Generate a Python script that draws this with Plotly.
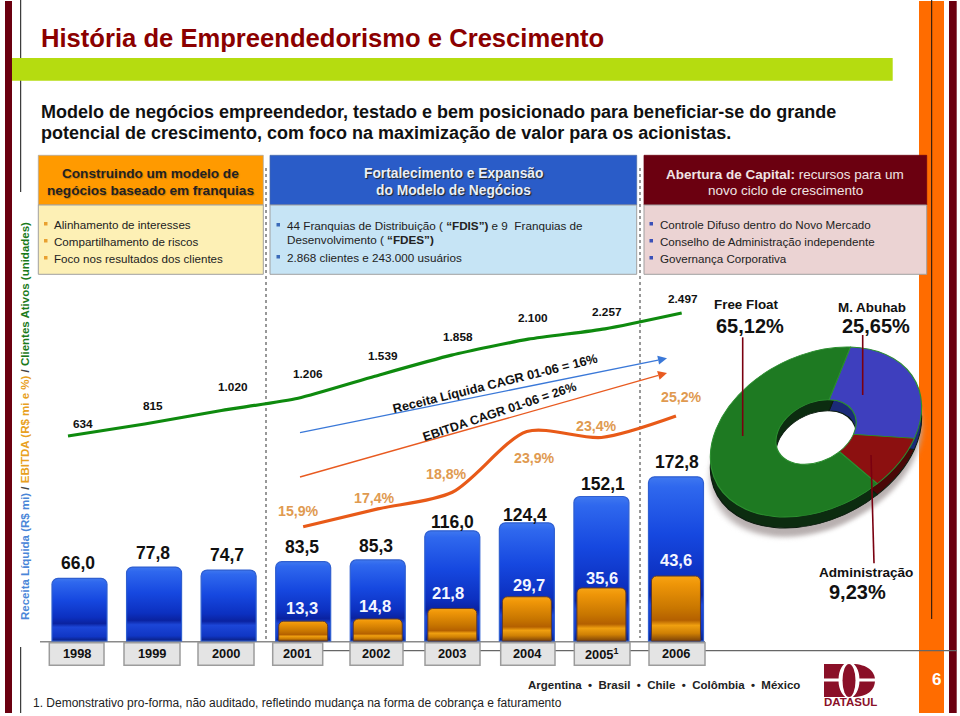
import math
import plotly.graph_objects as go

W, H = 960, 716
FONT = "Liberation Sans"

# ---------- data ----------
YEARS = [1998, 1999, 2000, 2001, 2002, 2003, 2004, 2005, 2006]
YEAR_LABELS = ["1998", "1999", "2000", "2001", "2002", "2003", "2004", "2005<sup>1</sup>", "2006"]
REVENUE = [66.0, 77.8, 74.7, 83.5, 85.3, 116.0, 124.4, 152.1, 172.8]
CLIENTS = [634, 815, 1020, 1206, 1539, 1858, 2100, 2257, 2497]
EBITDA_YEARS = [2001, 2002, 2003, 2004, 2005, 2006]
EBITDA = [13.3, 14.8, 21.8, 29.7, 35.6, 43.6]
MARGIN = [15.9, 17.4, 18.8, 23.9, 23.4, 25.2]
HOLDERS = ["M. Abuhab", "Administração", "Free Float"]
STAKES = [25.65, 9.23, 65.12]

# ---------- pixel helpers ----------
def fx(p): return p / W
def fy(p): return 1 - p / H

shapes, notes = [], []

def rect(x0, y0, x1, y1, fill, line=None, lw=1, layer="below"):
    shapes.append(dict(type="rect", xref="paper", yref="paper", x0=fx(x0), x1=fx(x1), y0=fy(y0), y1=fy(y1),
                       fillcolor=fill, line=dict(color=line or fill, width=lw if line else 0), layer=layer))

def seg(x0, y0, x1, y1, color, lw=1, dash=None, layer="below"):
    shapes.append(dict(type="line", xref="paper", yref="paper", x0=fx(x0), x1=fx(x1), y0=fy(y0), y1=fy(y1),
                       line=dict(color=color, width=lw, dash=dash or "solid"), layer=layer))

def txt(x, y, s, size, color="#111111", bold=False, anchor="center", angle=0, shadow=None):
    font = dict(family=FONT, size=size, color=color, weight=700 if bold else 400)
    if shadow:
        font["shadow"] = shadow
    notes.append(dict(xref="paper", yref="paper", x=fx(x), y=fy(y), text=s, showarrow=False, font=font,
                      xanchor=anchor, yanchor="middle", textangle=angle, borderpad=0, borderwidth=0))

def br(v, d=1):
    return f"{v:.{d}f}".replace(".", ",")

def th(v):
    return f"{v:,}".replace(",", ".")

# ---------- slide furniture ----------
MAROON = "#6b0010"
ORANGE = "#ff6c00"
rect(5, 1, 12, 713, MAROON)
seg(20.7, 0, 20.7, 192, "#111111", 1)
seg(20.7, 647, 20.7, 713, "#111111", 1)
rect(12, 58, 892.7, 80.7, "#b5dc10")
rect(919, 1, 944, 713, ORANGE)
seg(931.7, 0, 931.7, 619, "#111111", 1)
rect(949, 1, 956.7, 713, MAROON)

txt(41, 38, "História de Empreendedorismo e Crescimento", 25.6, "#8b0000", True, "left")
txt(41, 112, "Modelo de negócios empreendedor, testado e bem posicionado para beneficiar-se do grande", 18, "#111111", True, "left")
txt(41, 133, "potencial de crescimento, com foco na maximização de valor para os acionistas.", 18, "#111111", True, "left")

# header and body boxes
rect(38.3, 155.3, 263.3, 205, "#ff9a00", "#a9a9a9", 0.75)
rect(38.3, 205, 263.3, 274.3, "#fdf0b5", "#a0a0a0", 1)
rect(270, 155.3, 636.7, 205, "#2a5cc8", "#4a6aa8", 0.75)
rect(270, 205, 636.7, 274.3, "#c6e4f5", "#a0a0a0", 1)
rect(644, 155.3, 926.7, 205, MAROON, MAROON, 0.75)
rect(644, 205, 926.7, 274.3, "#ebd3d3", "#a0a0a0", 1)

txt(150.8, 174, "Construindo um modelo de", 13.6, "#222222", True, shadow="1px 1px 1px #c87800")
txt(150.8, 190, "negócios baseado em franquias", 13.6, "#222222", True, shadow="1px 1px 1px #c87800")
txt(453.5, 174, "Fortalecimento e Expansão", 13.8, "#e8eef8", True, shadow="1px 1px 1px #222222")
txt(453.5, 190, "do Modelo de Negócios", 13.8, "#e8eef8", True, shadow="1px 1px 1px #222222")
txt(785, 175, "<b>Abertura de Capital:</b> recursos para um", 13.5, "#f0e4e4")
txt(785, 190, "novo ciclo de crescimento", 13.5, "#f0e4e4")

LEFT_ITEMS = ["Alinhamento de interesses", "Compartilhamento de riscos", "Foco nos resultados dos clientes"]
MID_ITEMS = ["44 Franquias de Distribuição ( <b>“FDIS”)</b> e 9  Franquias de", "Desenvolvimento ( <b>“FDES”)</b>", "2.868 clientes e 243.000 usuários"]
RIGHT_ITEMS = ["Controle Difuso dentro do Novo Mercado", "Conselho de Administração independente", "Governança Corporativa"]
for s, y in zip(LEFT_ITEMS, [224, 241, 258]):
    txt(54.3, y, s, 11.6, "#222222", anchor="left")
    rect(44, y - 2, 47.5, y + 1.5, "#e8a030")
for s, y in zip(MID_ITEMS, [225, 239, 257]):
    txt(286.5, y, s, 11.7, "#222222", anchor="left")
for y in [225, 257]:
    rect(276.5, y - 2, 280, y + 1.5, "#3a6ab8")
for s, y in zip(RIGHT_ITEMS, [224, 241, 258]):
    txt(660, y, s, 11.6, "#222222", anchor="left")
    rect(649.5, y - 2, 653, y + 1.5, "#3a50b8")

# dotted separators, axis rails and year boxes
seg(266, 168, 266, 640, "#777777", 1.5, "dot")
seg(640, 168, 640, 638, "#777777", 1.5, "dot")
seg(40, 641.7, 705, 641.7, "#8a8a8a", 1.5)
seg(323, 650.7, 957, 650.7, "#666666", 1.2)
BOX_L = [49.3, 124, 198, 272.7, 350, 425, 500.7, 574.3, 649]
BOX_R = [104, 180, 254, 322.7, 403, 480, 555, 630, 705]
LABEL_X = [76.5, 151.7, 225.7, 296.7, 376, 452.3, 527.7, 601.7, 676]
for l, r, cx, lab in zip(BOX_L, BOX_R, LABEL_X, YEAR_LABELS):
    rect(l, 642.7, r, 665.3, "#e4e4e4", "#9c9c9c", 1.5)
    txt(cx, 653.5, lab, 12.8, "#111111", True)

# side title
txt(25, 421, '<span style="color:#4a86d8">Receita Líquida (R$ mi)</span> <span style="color:#444444">/</span> '
    '<span style="color:#e8a020">EBITDA (R$ mi e %)</span> <span style="color:#444444">/</span> '
    '<span style="color:#1a7a1a">Clientes Ativos (unidades)</span>', 11.5, bold=True, angle=-90)

# value labels
REV_X = [77.7, 152.7, 226.7, 301.7, 376, 452.7, 525, 602.7, 676.7]
REV_Y = [563, 552.7, 555.3, 547.3, 545.7, 522.3, 515.3, 484.3, 462.3]
for x, y, v in zip(REV_X, REV_Y, REVENUE):
    txt(x, y, br(v), 17.5, "#111111", True)
CLI_X = [83.3, 152.7, 233, 308, 383, 457.7, 532.7, 607.3, 682.7]
CLI_Y = [424, 405.7, 387.3, 374.3, 355.7, 336.7, 318.3, 312, 299.3]
for x, y, v in zip(CLI_X, CLI_Y, CLIENTS):
    txt(x, y, th(v), 11.8, "#111111", True)
EB_X = [301.7, 375, 448.3, 529, 601.7, 675.7]
EB_Y = [608.3, 606, 592.7, 585.3, 577.7, 560]
for x, y, v in zip(EB_X, EB_Y, EBITDA):
    txt(x, y, br(v), 16.5, "#f4f6ff", True)
MG_X = [298.7, 374, 446, 534, 596, 681.7]
MG_Y = [511, 498.3, 474.3, 458.3, 426.3, 396.7]
for x, y, v in zip(MG_X, MG_Y, MARGIN):
    txt(x, y, br(v) + "%", 14.2, "#e09a50", True)

# CAGR text and arrows
txt(495, 384, "Receita Líquida CAGR 01-06 = 16%", 12.7, "#111111", True, angle=-14)
txt(499, 411.7, "EBITDA CAGR 01-06 = 26%", 12.5, "#111111", True, angle=-18.6)
for (x0, y0, x1, y1, c) in [(300, 432.7, 667, 358.3, "#3a78d8"), (300, 477, 667, 373, "#e85a20")]:
    d = math.hypot(x1 - x0, y1 - y0)
    ux, uy = (x1 - x0) / d, (y1 - y0) / d
    bx, by = x1 - 9 * ux, y1 - 9 * uy
    seg(x0, y0, bx, by, c, 1.3, layer="above")
    p1 = (bx - 4.5 * uy, by + 4.5 * ux)
    p2 = (bx + 4.5 * uy, by - 4.5 * ux)
    shapes.append(dict(type="path", xref="paper", yref="paper", layer="above", fillcolor=c, line=dict(width=0),
                       path=f"M {fx(x1)} {fy(y1)} L {fx(p1[0])} {fy(p1[1])} L {fx(p2[0])} {fy(p2[1])} Z"))

# ownership texts and leaders
for (x, y, s, sz) in [(746.7, 304.3, "Free Float", 13.4), (750, 325.7, br(STAKES[2], 2) + "%", 20),
                      (872.3, 307.3, "M. Abuhab", 13.4), (875.7, 325.7, br(STAKES[0], 2) + "%", 20),
                      (865.7, 572.3, "Administração", 13.6), (857.7, 591.7, br(STAKES[1], 2) + "%", 20)]:
    txt(x, y, s, sz, "#111111", True)
LEADER = "#7a0010"
seg(742.7, 337.3, 742.7, 436, LEADER, 1.6, layer="above")
seg(862.7, 335, 862.7, 395, LEADER, 1.6, layer="above")
seg(871, 455, 874, 563.3, LEADER, 1.6, layer="above")

# footer
txt(33, 703, "1. Demonstrativo pro-forma, não auditado, refletindo mudança na forma de cobrança e faturamento", 12, "#222222", anchor="left")
txt(528, 685, "Argentina  •  Brasil  •  Chile  •  Colômbia  •  México", 11.5, "#222222", True, anchor="left")
txt(936, 679.3, "6", 17, "#ffffff", True)

# logo
LOGO = "#8a1028"
shapes.append(dict(type="path", xref="paper", yref="paper", layer="below", fillcolor=LOGO, line=dict(width=0),
    path=f"M {fx(824)} {fy(664)} L {fx(852)} {fy(664)} C {fx(868)} {fy(664)} {fx(875)} {fy(672)} {fx(875)} {fy(680)} "
         f"C {fx(875)} {fy(690)} {fx(868)} {fy(697)} {fx(852)} {fy(697)} L {fx(824)} {fy(697)} Z"))
rect(824, 678.5, 875, 681.5, "#ffffff")
shapes.append(dict(type="circle", xref="paper", yref="paper", layer="below", fillcolor="#ffffff", line=dict(width=0),
                   x0=fx(838.5), x1=fx(859.5), y0=fy(662), y1=fy(698)))
shapes.append(dict(type="circle", xref="paper", yref="paper", layer="below", fillcolor=LOGO, line=dict(width=0),
                   x0=fx(842.5), x1=fx(855.5), y0=fy(664), y1=fy(697)))
txt(850, 702, "DATASUL", 11.5, LOGO, True)

# ---------- axes (pixel mapping through scales) ----------
BAR_PX = 74.56       # px per year
BAR_X0 = 1998 - 79.5 / BAR_PX
def yrange(base_px, px_per_unit):
    return [(base_px - H) / px_per_unit, base_px / px_per_unit]

fig = go.Figure()

fig.add_trace(go.Bar(x=YEARS, y=REVENUE, width=55 / BAR_PX, name="Receita Líquida", xaxis="x", yaxis="y",
                     marker=dict(color="#1648e0", cornerradius=6, line=dict(color="#2f5fd0", width=1.2)),
                     hoverinfo="skip"))
fig.add_trace(go.Bar(x=EBITDA_YEARS, y=EBITDA, width=49 / BAR_PX, name="EBITDA", xaxis="x", yaxis="y2",
                     marker=dict(color="#c87a00", cornerradius=5, line=dict(color="#5a3a30", width=1)),
                     hoverinfo="skip"))
fig.add_trace(go.Scatter(x=list(range(9)), y=CLIENTS, mode="lines", name="Clientes Ativos", xaxis="x2", yaxis="y3",
                         line=dict(color="#0e8a0e", width=3.2, shape="spline", smoothing=0.6), hoverinfo="skip"))
fig.add_trace(go.Scatter(x=EBITDA_YEARS, y=MARGIN, mode="lines", name="Margem EBITDA", xaxis="x", yaxis="y4",
                         line=dict(color="#e85a18", width=3.2, shape="spline", smoothing=0.8), hoverinfo="skip"))

# donut: shadow, depth, top face (squashed into perspective after drawing)
R = 111.7
CX, CY = 816, 432
dom = dict(x=[fx(CX - R), fx(CX + R)], y=[fy(CY + R), fy(CY - R)])
for colors, ln, hole in [(["#b8b0b0"] * 3, "#b8b0b0", 0.62),
                         (["#1b2a78", "#4a0808", "#0c2c10"], "#0c1c10", 0.38),
                         (["#3e3fbe", "#8c1010", "#1e7a22"], "#2c8f30", 0.38)]:
    fig.add_trace(go.Pie(labels=HOLDERS, values=STAKES, hole=hole, sort=False, direction="clockwise", rotation=38,
                         domain=dom, textinfo="none", hoverinfo="skip", showlegend=False,
                         marker=dict(colors=colors, line=dict(color=ln, width=1.2 if ln != "#b8b0b0" else 0))))

hidden = dict(visible=False)
fig.update_layout(
    width=W, height=H, margin=dict(l=0, r=0, t=0, b=0, pad=0), autosize=False,
    paper_bgcolor="white", plot_bgcolor="rgba(0,0,0,0)", showlegend=False, barmode="overlay",
    font=dict(family=FONT),
    xaxis=dict(range=[BAR_X0, BAR_X0 + W / BAR_PX], domain=[0, 1], **hidden),
    xaxis2=dict(range=[-68 / 76.71, (W - 68) / 76.71], overlaying="x", **hidden),
    yaxis=dict(range=yrange(641, 0.95), domain=[0, 1], **hidden),
    yaxis2=dict(range=yrange(641, 1.49), overlaying="y", **hidden),
    yaxis3=dict(range=[(477.8 - H) / 0.066, 477.8 / 0.066], overlaying="y", **hidden),
    yaxis4=dict(range=[20.77 + (468.8 - H) / 11.9, 20.77 + 468.8 / 11.9], overlaying="y", **hidden),
    shapes=shapes, annotations=notes,
)

POST = """
document.body.style.margin='0';
document.body.style.background='white';
var svg=document.querySelector('.main-svg'), defs=svg.querySelector('defs'), NS='http://www.w3.org/2000/svg';
function grad(id,stops){var g=document.createElementNS(NS,'linearGradient');g.setAttribute('id',id);
 g.setAttribute('x1','0');g.setAttribute('y1','0');g.setAttribute('x2','0');g.setAttribute('y2','1');
 stops.forEach(function(s){var e=document.createElementNS(NS,'stop');e.setAttribute('offset',s[0]);e.setAttribute('stop-color',s[1]);g.appendChild(e);});
 defs.appendChild(g);}
grad('gBlue',[[0,'#3f78f0'],[0.06,'#2f68ee'],[0.35,'#1648e0'],[0.62,'#0c30c0'],[0.72,'#0a22a0'],[0.78,'#1c46d8'],[0.93,'#1036c4'],[1,'#0a1f80']]);
grad('gOrange',[[0,'#f7a414'],[0.12,'#ef9608'],[0.5,'#c87600'],[0.68,'#b46000'],[0.76,'#f0a010'],[0.88,'#cf8004'],[1,'#7c4208']]);
var bars=document.querySelectorAll('.barlayer .point path');
bars.forEach(function(p,i){p.style.fill=i<9?'url(#gBlue)':'url(#gOrange)';});
var pies=document.querySelectorAll('.pielayer g.trace');
var offs=[20,11,0];
pies.forEach(function(g,i){
 g.setAttribute('transform','translate(816 '+(432+offs[i])+') rotate(-26.6) scale(1 0.688) translate(-816 -432)');
 if(i===0){g.style.filter='blur(3px)';}
});
"""
fig.write_html("out.html", post_script=POST, config=dict(displayModeBar=False))
